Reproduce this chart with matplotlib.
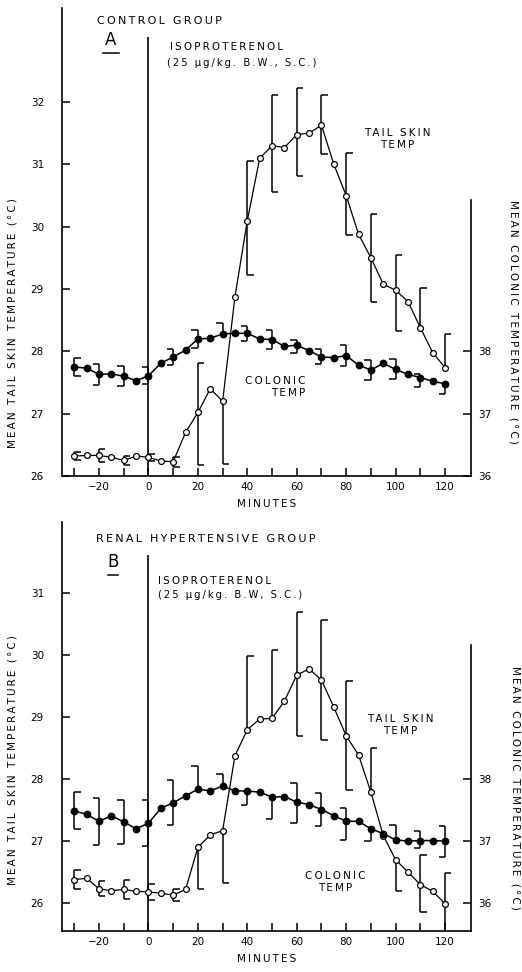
import numpy as np
import matplotlib.pyplot as plt

# tiempo (min) respecto a la inyeccion de isoproterenol
minutes = [-30, -25, -20, -15, -10, -5, 0, 5, 10, 15, 20, 25, 30, 35, 40, 45,
           50, 55, 60, 65, 70, 75, 80, 85, 90, 95, 100, 105, 110, 115, 120]

# ==============================
# Panel A: control group
# ==============================
tail_A = [26.32, 26.33, 26.33, 26.30, 26.25, 26.32, 26.30, 26.24, 26.23, 26.70,
          27.02, 27.40, 27.20, 28.88, 30.10, 31.10, 31.30, 31.27, 31.48, 31.50,
          31.63, 31.00, 30.50, 29.88, 29.50, 29.08, 28.98, 28.80, 28.38, 27.98, 27.74]
colonic_A = [37.75, 37.73, 37.63, 37.64, 37.60, 37.53, 37.61, 37.81, 37.91, 38.02,
             38.20, 38.21, 38.28, 38.29, 38.29, 38.20, 38.19, 38.08, 38.10, 38.01,
             37.91, 37.90, 37.93, 37.78, 37.70, 37.81, 37.71, 37.63, 37.58, 37.52, 37.48]
# error (SE) cada 10 min, parte superior / inferior
tail_A_up = [0.07, 0.10, 0.07, 0.06, 0.08, 0.80, 0.00, 0.96, 0.81, 0.74, 0.48, 0.69, 0.70, 0.56, 0.63, 0.54]
tail_A_lo = [0.07, 0.10, 0.07, 0.06, 0.08, 0.85, 1.00, 0.88, 0.74, 0.66, 0.46, 0.63, 0.70, 0.66, 0.00, 0.00]
colonic_A_up = [0.14, 0.17, 0.16, 0.14, 0.13, 0.15, 0.17, 0.12, 0.15, 0.08, 0.12, 0.17, 0.16, 0.16, 0.05, 0.00]
colonic_A_lo = [0.14, 0.17, 0.16, 0.14, 0.13, 0.15, 0.00, 0.12, 0.15, 0.12, 0.12, 0.17, 0.16, 0.16, 0.15, 0.17]

# ==============================
# Panel B: renal hypertensive group
# ==============================
tail_B = [26.38, 26.40, 26.23, 26.20, 26.22, 26.19, 26.18, 26.16, 26.13, 26.22,
          26.90, 27.10, 27.17, 28.38, 28.80, 28.97, 28.98, 29.26, 29.68, 29.78,
          29.60, 29.16, 28.70, 28.39, 27.79, 27.09, 26.70, 26.50, 26.30, 26.19, 25.99]
colonic_B = [37.49, 37.43, 37.32, 37.41, 37.31, 37.20, 37.29, 37.53, 37.62, 37.73,
             37.84, 37.81, 37.89, 37.81, 37.81, 37.79, 37.71, 37.72, 37.63, 37.59,
             37.51, 37.41, 37.32, 37.32, 37.20, 37.12, 37.02, 37.00, 37.01, 37.01, 37.00]
tail_B_up = [0.16, 0.12, 0.15, 0.13, 0.10, 0.00, 0.00, 1.19, 1.11, 1.02, 0.97, 0.89, 0.71, 0.00, 0.48, 0.50]
tail_B_lo = [0.16, 0.12, 0.15, 0.13, 0.10, 0.67, 0.85, 0.00, 0.00, 0.98, 0.97, 0.88, 0.00, 0.51, 0.45, 0.50]
colonic_B_up = [0.30, 0.38, 0.35, 0.37, 0.36, 0.38, 0.19, 0.00, 0.00, 0.31, 0.26, 0.21, 0.00, 0.24, 0.15, 0.25]
colonic_B_lo = [0.30, 0.38, 0.35, 0.37, 0.36, 0.00, 0.00, 0.22, 0.36, 0.34, 0.26, 0.30, 0.20, 0.00, 0.12, 0.25]

plt.rcParams['font.family'] = 'DejaVu Sans'

fig = plt.figure(figsize=(5.22, 9.72), dpi=100)

CAP = 2.6  # ancho del corchete en minutos


def esp(s):
    # letras separadas como en el rotulado original
    return '\u2009'.join(s)


def corchetes(ax, x, y, up, lo, lado):
    for i, (xi, yi, u, l) in enumerate(zip(x, y, up, lo)):
        if u == 0 and l == 0:
            continue
        s = lado
        if lado < 0 and i == 0:
            s = 1
        ax.vlines(xi, yi - l, yi + u, color='black', lw=1.1, zorder=2)
        if u > 0:
            ax.hlines(yi + u, xi, xi + s * CAP, color='black', lw=1.1, zorder=2)
        if l > 0:
            ax.hlines(yi - l, xi, xi + s * CAP, color='black', lw=1.1, zorder=2)


def panel(rect, ylim, yticks, tail, colonic, t_up, t_lo, c_up, c_lo, spine_top, line_top):
    ax = fig.add_axes(rect)
    ax.set_xlim(-35, 130.5)
    ax.set_ylim(*ylim)
    ax2 = ax.twinx()
    ax2.set_ylim(ylim[0] + 10, ylim[1] + 10)

    for s in ['top', 'right']:
        ax.spines[s].set_visible(False)
    for s in ['top', 'left', 'bottom']:
        ax2.spines[s].set_visible(False)
    ax2.spines['right'].set_bounds(ylim[0] + 10, spine_top)
    for a in (ax, ax2):
        for s in a.spines.values():
            s.set_linewidth(1.2)

    ax.set_xticks([-20, 0, 20, 40, 60, 80, 100, 120])
    ax.set_xticks(minutes[::2], minor=True)
    ax.set_yticks(yticks)
    ax2.set_yticks([36, 37, 38])
    ax.tick_params(axis='both', which='both', direction='in', length=6, width=1.1, labelsize=7.5)
    ax.tick_params(axis='y', pad=13)
    ax.tick_params(axis='x', pad=4)
    ax2.tick_params(axis='y', direction='in', length=6, width=1.1, labelsize=7.5, pad=5)

    # linea de la inyeccion
    ax.vlines(0, ylim[0], line_top, color='black', lw=1.2, zorder=1)

    xe = minutes[::2]
    corchetes(ax, xe, tail[::2], t_up, t_lo, 1)
    corchetes(ax2, xe, colonic[::2], c_up, c_lo, -1)

    ax.plot(minutes, tail, color='black', lw=0.9, marker='o', ms=4.2,
            mfc='white', mec='black', mew=0.9, zorder=3)
    ax2.plot(minutes, colonic, color='black', lw=1.1, marker='o', ms=4.6,
             mfc='black', mec='black', zorder=3)

    ax.set_xlabel(esp('MINUTES'), fontsize=7.5, labelpad=5)
    ax.set_ylabel(esp('MEAN TAIL SKIN TEMPERATURE (°C)'), fontsize=7.5)
    ax2.set_ylabel(esp('MEAN COLONIC TEMPERATURE (°C)'), fontsize=7.5, rotation=270, va='center')
    return ax, ax2


# ==============================
# Panel A
# ==============================
axA, axA2 = panel([62 / 522, 1 - 476 / 972, 409 / 522, 468 / 972], (26, 33.51),
                  [26, 27, 28, 29, 30, 31, 32], tail_A, colonic_A,
                  tail_A_up, tail_A_lo, colonic_A_up, colonic_A_lo, 40.43, 33.04)
axA.yaxis.set_label_coords(-0.11, 0.327)
axA2.yaxis.set_label_coords(1.103, 0.329)

axA.text(-20.9, 33.30, esp('CONTROL GROUP'), fontsize=8, va='center', ha='left')
axA.text(-15.2, 33.0, 'A', fontsize=12, va='center', ha='center')
axA.plot([-18.4, -11.9], [32.79, 32.79], color='black', lw=1.1, clip_on=False)
axA.text(8.7, 32.88, esp('ISOPROTERENOL'), fontsize=7.5, va='center', ha='left')
axA.text(7.5, 32.63, esp('(25 µg/kg. B.W., S.C.)'), fontsize=7.2, va='center', ha='left')
axA.text(100.8, 31.41, esp('TAIL SKIN') + '\n' + esp('TEMP'), fontsize=7.5,
         va='center', ha='center', linespacing=1.3)
axA.text(63.4, 27.43, esp('COLONIC') + '\n' + esp('TEMP'), fontsize=7.5, va='center',
         ha='right', multialignment='right', linespacing=1.3)

# ==============================
# Panel B
# ==============================
axB, axB2 = panel([62 / 522, 1 - 931 / 972, 409 / 522, 409 / 972], (25.55, 32.15),
                  [26, 27, 28, 29, 30, 31], tail_B, colonic_B,
                  tail_B_up, tail_B_lo, colonic_B_up, colonic_B_lo, 40.17, 31.62)
axB.yaxis.set_label_coords(-0.11, 0.418)
axB2.yaxis.set_label_coords(1.108, 0.35)

axB.text(-21.3, 31.88, esp('RENAL HYPERTENSIVE GROUP'), fontsize=8, va='center', ha='left')
axB.text(-14.4, 31.51, 'B', fontsize=12, va='center', ha='center')
axB.plot([-16.4, -12.3], [31.30, 31.30], color='black', lw=1.1, clip_on=False)
axB.text(3.8, 31.2, esp('ISOPROTERENOL'), fontsize=7.5, va='center', ha='left')
axB.text(3.8, 30.98, esp('(25 µg/kg. B.W, S.C.)'), fontsize=7.2, va='center', ha='left')
axB.text(101.8, 28.87, esp('TAIL SKIN') + '\n' + esp('TEMP'), fontsize=7.5,
         va='center', ha='center', linespacing=1.3)
axB.text(75.5, 26.34, esp('COLONIC') + '\n' + esp('TEMP'), fontsize=7.5, va='center',
         ha='center', linespacing=1.3)

plt.savefig('out.png', dpi=100)
